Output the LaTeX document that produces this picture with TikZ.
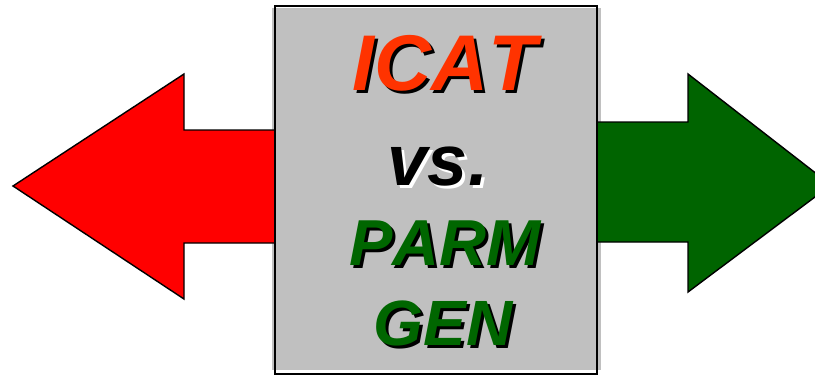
\documentclass[tikz,border=0pt]{standalone}
\usepackage{fontspec}
\setmainfont{Liberation Sans}[Kerning=Off]
\definecolor{arrowred}{HTML}{FF0000}
\definecolor{arrowgreen}{HTML}{006400}
\definecolor{titlered}{HTML}{FF3300}
\definecolor{titlegreen}{HTML}{006600}
\definecolor{panelgray}{HTML}{C0C0C0}
\tikzset{
  bigarrow/.style={draw=black, line width=1.4pt, line join=miter},
  word/.style={inner sep=0pt, anchor=base, font=\bfseries\itshape\fontsize{#1}{#1}\selectfont},
}
% a word with a drop shadow behind it: #1 colour, #2 shadow colour, #3 text
\newcommand{\shadowed}[3]{%
  \makebox[0pt][l]{\hspace*{3pt}\raisebox{-3pt}{\color{#2}#3}}{\color{#1}#3}}
\begin{document}
\begin{tikzpicture}[x=1pt, y=-1pt]
  \useasboundingbox (0,0) rectangle (815,375);
  \clip (0,0) rectangle (815,375);
  % panel background
  \fill[panelgray] (272,8) rectangle (601,370);
  % left arrow
  \draw[bigarrow, fill=arrowred]
    (275,130) -- (184,130) -- (184,74) -- (13,186) -- (184,299) -- (184,243) -- (275,243) -- cycle;
  % right arrow
  \draw[bigarrow, fill=arrowgreen]
    (597,122) -- (688,122) -- (688,74) -- (831,185) -- (688,292) -- (688,242) -- (597,242) -- cycle;
  % panel frame
  \node[draw=black, line width=1.2pt, inner sep=0pt, minimum width=322pt, minimum height=368pt] (panel) at (436,190) {};
  % title words
  \node[word=79] (icat) at (445,90) {\shadowed{titlered}{black}{ICAT}};
  \node[word=72] (vs)   at (438,185) {\shadowed{black}{white}{vs.}};
  \node[word=65] (parm) at (445,265) {\shadowed{titlegreen}{black}{PARM}};
  \node[word=64] (gen)  at (443,345) {\shadowed{titlegreen}{black}{GEN}};
\end{tikzpicture}
\end{document}
